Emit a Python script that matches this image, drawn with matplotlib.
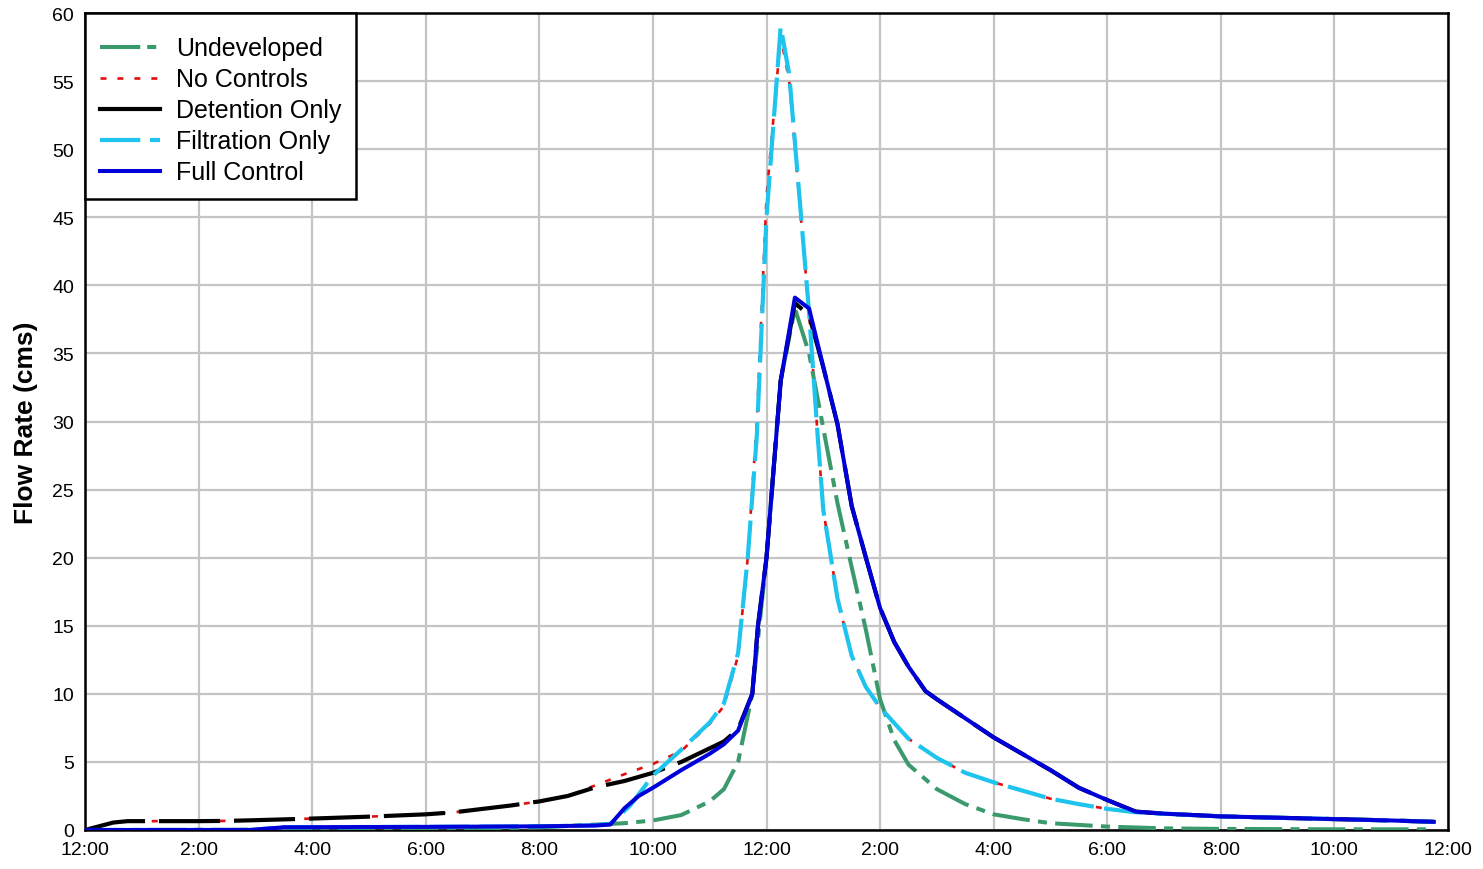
import matplotlib
matplotlib.use("Agg")
import matplotlib.pyplot as plt
from matplotlib.lines import Line2D

plt.rcParams['font.family'] = ['Liberation Sans', 'DejaVu Sans']
plt.rcParams['lines.scale_dashes'] = False

# ---------------- data (hours from midnight, flow in cms) ----------------
tick_hours = [0, 2, 4, 6, 8, 10, 12, 14, 16, 18, 20, 22, 24]
tick_labels = ["12:00", "2:00", "4:00", "6:00", "8:00", "10:00", "12:00",
               "2:00", "4:00", "6:00", "8:00", "10:00", "12:00"]

undev_t = [0, 6, 7, 8, 8.5, 9, 9.5, 10, 10.5, 11, 11.25, 11.5, 11.75, 12, 12.25,
           12.5, 12.75, 13, 13.25, 13.5, 13.75, 14, 14.25, 14.5, 14.75, 15, 15.5,
           16, 16.5, 17, 18, 19, 20, 22, 23.75]
undev_q = [0, 0.05, 0.1, 0.2, 0.3, 0.4, 0.5, 0.7, 1.1, 2.1, 3.0, 5.0, 10, 20, 33,
           38.3, 35, 29.5, 24, 19.3, 14.7, 9.6, 6.6, 4.8, 3.9, 3.0, 1.9,
           1.15, 0.8, 0.5, 0.25, 0.12, 0.08, 0.05, 0.05]

nocon_t = [0, 0.5, 0.75, 1, 2, 2.5, 3, 4, 5, 6, 6.5, 7, 7.5, 8, 8.5, 9, 9.5, 10,
           10.5, 11, 11.25, 11.5, 11.67, 11.83, 12, 12.25, 12.4, 12.75, 12.9, 13,
           13.25, 13.5, 13.75, 14, 14.5, 15, 15.5, 16, 16.5, 17, 17.5, 18, 18.5,
           19, 20, 21, 22, 23, 23.75]
nocon_q = [0, 0.55, 0.65, 0.65, 0.65, 0.67, 0.72, 0.84, 0.98, 1.15, 1.3, 1.55, 1.8,
           2.1, 2.5, 3.3, 4.1, 4.85, 5.8, 7.8, 9.1, 12.8, 20, 30, 46.5, 58.3, 55,
           38, 29, 23.5, 17, 12.8, 10.5, 9.0, 6.7, 5.3, 4.2, 3.5, 2.9, 2.3, 1.9,
           1.55, 1.3, 1.2, 1.0, 0.9, 0.8, 0.7, 0.6]

detent_t = [0, 0.5, 0.75, 1, 2, 2.5, 3, 4, 5, 6, 6.5, 7, 7.5, 8, 8.5, 9, 9.5, 9.75,
            10, 10.5, 11, 11.25, 11.5, 11.75, 11.85, 12, 12.25, 12.5, 12.75, 13,
            13.25, 13.5, 13.75, 14, 14.25, 14.5, 14.8, 15, 15.5, 16, 16.5, 17,
            17.5, 18, 18.5, 19, 20, 21, 22, 23, 23.75]
detent_q = [0, 0.55, 0.65, 0.65, 0.65, 0.67, 0.72, 0.84, 0.98, 1.15, 1.3, 1.55, 1.8,
            2.1, 2.5, 3.15, 3.6, 3.9, 4.2, 5.0, 6.0, 6.5, 7.4, 10, 15, 20, 33,
            38.7, 37.8, 34.0, 29.8, 23.8, 20.0, 16.3, 13.8, 12.0, 10.2, 9.6, 8.2,
            6.8, 5.6, 4.4, 3.1, 2.2, 1.35, 1.2, 1.0, 0.9, 0.8, 0.7, 0.6]

filt_t = [0, 2.9, 3.5, 5, 6, 7, 8, 8.5, 9, 9.25, 9.6, 10, 10.5, 11, 11.25, 11.5,
          11.67, 11.83, 12, 12.25, 12.4, 12.75, 12.9, 13, 13.25, 13.5, 13.75, 14,
          14.5, 15, 15.5, 16, 16.5, 17, 17.5, 18, 18.5, 19, 20, 21, 22, 23, 23.75]
filt_q = [0, 0, 0.2, 0.22, 0.23, 0.25, 0.27, 0.3, 0.35, 0.45, 1.8, 4.0, 5.9, 7.9,
          9.3, 13.0, 20, 29, 45, 59, 55.5, 38, 29, 23.5, 17, 12.8, 10.5, 9.0,
          6.7, 5.3, 4.2, 3.5, 2.9, 2.3, 1.9, 1.55, 1.3, 1.2, 1.0, 0.9, 0.8, 0.7, 0.6]

full_t = [0, 2.9, 3.5, 5, 6, 7, 8, 8.5, 9, 9.25, 9.5, 9.75, 10, 10.5, 11, 11.25,
          11.5, 11.75, 11.85, 12, 12.25, 12.5, 12.75, 13, 13.25, 13.5, 13.75, 14,
          14.25, 14.5, 14.8, 15, 15.5, 16, 16.5, 17, 17.5, 18, 18.5, 19, 20, 21,
          22, 23, 23.75]
full_q = [0, 0, 0.2, 0.22, 0.23, 0.25, 0.27, 0.3, 0.33, 0.4, 1.6, 2.5, 3.1, 4.4,
          5.6, 6.3, 7.3, 10, 15, 20, 33, 39.1, 38.3, 34.0, 29.8, 23.8, 20.0, 16.3,
          13.8, 12.0, 10.2, 9.6, 8.2, 6.8, 5.6, 4.4, 3.1, 2.2, 1.35, 1.2, 1.0, 0.9,
          0.8, 0.7, 0.6]

labels = ["Undeveloped", "No Controls", "Detention Only", "Filtration Only", "Full Control"]
colors = ["#3a9a6c", "#e01010", "#000000", "#1ec3ee", "#0000d8"]

# ---------------- figure ----------------
fig = plt.figure(figsize=(14.83, 8.70), dpi=100)
ax = fig.add_axes([85 / 1483, 1 - 831 / 870, (1448 - 85) / 1483, (831 - 14) / 870])

ax.plot(nocon_t, nocon_q, color=colors[1], lw=1.9, dashes=(4.3, 7.9), zorder=2)
ax.plot(undev_t, undev_q, color=colors[0], lw=2.9, dashes=(27, 6, 6.5, 6), zorder=3)
ax.plot(detent_t, detent_q, color=colors[2], lw=3.0, dashes=(44, 10), zorder=4)
ax.plot(filt_t, filt_q, color=colors[3], lw=3.0, dashes=(28, 7.5), zorder=5)
ax.plot(full_t, full_q, color=colors[4], lw=2.9, zorder=6)

ax.set_xlim(0, 24)
ax.set_ylim(0, 60)
ax.set_xticks(tick_hours)
ax.set_xticklabels(tick_labels)
ax.set_yticks(range(0, 61, 5))
ax.tick_params(axis='both', length=0, labelsize=14, pad=8)
ax.grid(True, color="#c4c4c4", lw=1.6, zorder=0)
ax.set_axisbelow(True)
for s in ax.spines.values():
    s.set_linewidth(1.8)
    s.set_color("black")

ax.set_ylabel("Flow Rate (cms)", fontsize=19, fontweight='bold')
ax.yaxis.set_label_coords(-0.0345, 0.5)

handles = [
    Line2D([], [], color=colors[0], lw=2.9, dashes=(29, 5, 6.5, 6)),
    Line2D([], [], color=colors[1], lw=1.9, dashes=(4.3, 7.9)),
    Line2D([], [], color=colors[2], lw=3.0),
    Line2D([], [], color=colors[3], lw=3.0, dashes=(29, 7)),
    Line2D([], [], color=colors[4], lw=2.9),
]
leg = ax.legend(handles, labels, loc="upper left", borderaxespad=0, fontsize=18,
                fancybox=False, framealpha=1, edgecolor="black",
                handlelength=2.4, handletextpad=0.68, labelspacing=0.28,
                borderpad=0.58, title=" ", title_fontsize=3)
try:
    leg._legend_box.sep = 3.5
except Exception:
    pass
leg.get_frame().set_linewidth(1.8)
leg.set_zorder(10)

fig.savefig("out.png", dpi=100, facecolor="white")
